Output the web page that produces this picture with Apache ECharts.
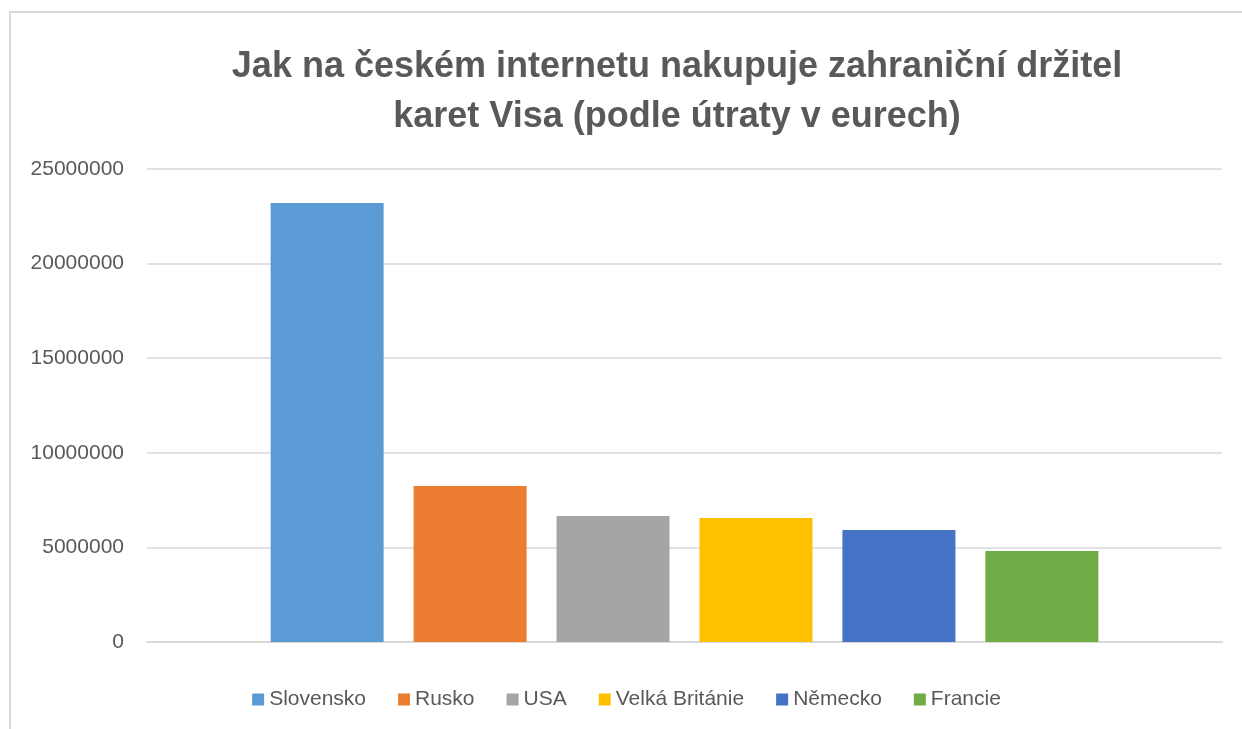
<!DOCTYPE html>
<html>
<head>
<meta charset="utf-8">
<script src="https://cdn.jsdelivr.net/npm/echarts@6/dist/echarts.min.js"></script>
<style>
  html, body { margin: 0; padding: 0; background: #fff; }
  #chart { position: absolute; left: 9px; top: 11px; width: 1233px; height: 718px;
           border-left: 2px solid #d9d9d9; border-top: 2px solid #d9d9d9; box-sizing: border-box; }
</style>
</head>
<body>
<div id="chart"></div>
<script>
// útrata v eurech podle země držitele karty
var countries = ['Slovensko', 'Rusko', 'USA', 'Velká Británie', 'Německo', 'Francie'];
var spend = [23200000, 8250000, 6660000, 6550000, 5920000, 4810000];
var colors = ['#5b9bd5', '#ed7d31', '#a5a5a5', '#ffc000', '#4472c4', '#70ad47'];

var font = 'Liberation Sans, Arial, sans-serif';
var series = countries.map(function (name, i) {
    return {
        name: name,
        type: 'bar',
        data: [spend[i]],
        barWidth: 113,
        barGap: '26.5%',
        itemStyle: { color: colors[i] }
    };
});

var chart = echarts.init(document.getElementById('chart'));
chart.setOption({
    animation: false,
    title: {
        text: 'Jak na českém internetu nakupuje zahraniční držitel\nkaret Visa (podle útraty v eurech)',
        left: 661,
        textAlign: 'center',
        top: 24,
        textStyle: { fontFamily: font, fontSize: 36, fontWeight: 'bold', color: '#595959', lineHeight: 50 }
    },
    legend: {
        bottom: 14,
        left: 'center',
        itemWidth: 12,
        itemHeight: 12,
        itemGap: 32,
        icon: 'rect',
        textStyle: { fontFamily: font, fontSize: 21, color: '#595959' }
    },
    grid: { left: 136, right: 20, top: 156, bottom: 87 },
    xAxis: {
        type: 'category',
        data: [''],
        axisLine: { lineStyle: { color: '#d9d9d9', width: 2 } },
        axisTick: { show: false },
        axisLabel: { show: false }
    },
    yAxis: {
        type: 'value',
        min: 0,
        max: 25000000,
        interval: 5000000,
        axisLine: { show: false },
        axisTick: { show: false },
        splitLine: { lineStyle: { color: '#d9d9d9', width: 1.5 } },
        axisLabel: { fontFamily: font, fontSize: 21, color: '#595959', margin: 23,
                     formatter: function (v) { return String(v); } }
    },
    series: series
});
</script>
</body>
</html>
